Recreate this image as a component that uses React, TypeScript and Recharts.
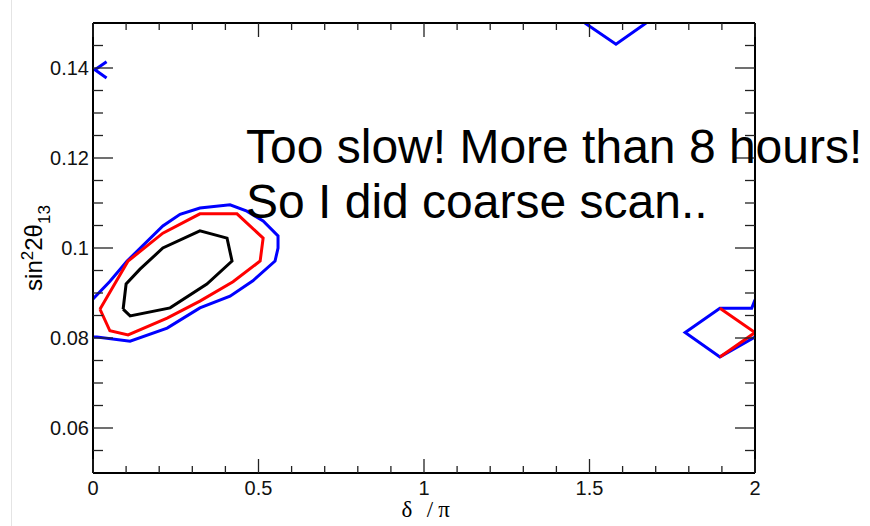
import React from 'react';
import { LineChart, Line, XAxis, YAxis } from 'recharts';

type Pt = { d: number; s: number };

// d = delta / pi, s = sin^2 2theta13
const blueMain: Pt[] = [
  { d: 0.0, s: 0.0887 },
  { d: 0.05, s: 0.0925 },
  { d: 0.103, s: 0.0971 },
  { d: 0.211, s: 0.1049 },
  { d: 0.263, s: 0.1075 },
  { d: 0.323, s: 0.1089 },
  { d: 0.414, s: 0.1096 },
  { d: 0.465, s: 0.1082 },
  { d: 0.514, s: 0.106 },
  { d: 0.559, s: 0.1027 },
  { d: 0.559, s: 0.1 },
  { d: 0.55, s: 0.0971 },
  { d: 0.483, s: 0.0927 },
  { d: 0.414, s: 0.0893 },
  { d: 0.323, s: 0.0867 },
  { d: 0.224, s: 0.0822 },
  { d: 0.112, s: 0.0793 },
  { d: 0.012, s: 0.0802 },
  { d: 0.0, s: 0.0802 },
];

const redMain: Pt[] = [
  { d: 0.021, s: 0.0864 },
  { d: 0.106, s: 0.0971 },
  { d: 0.211, s: 0.1033 },
  { d: 0.323, s: 0.1076 },
  { d: 0.435, s: 0.1076 },
  { d: 0.514, s: 0.1022 },
  { d: 0.505, s: 0.0971 },
  { d: 0.423, s: 0.0925 },
  { d: 0.323, s: 0.0882 },
  { d: 0.224, s: 0.0844 },
  { d: 0.106, s: 0.0807 },
  { d: 0.051, s: 0.0816 },
  { d: 0.021, s: 0.0864 },
];

const blackMain: Pt[] = [
  { d: 0.091, s: 0.0864 },
  { d: 0.1, s: 0.092 },
  { d: 0.142, s: 0.0953 },
  { d: 0.211, s: 0.1 },
  { d: 0.323, s: 0.1038 },
  { d: 0.405, s: 0.1022 },
  { d: 0.42, s: 0.0971 },
  { d: 0.344, s: 0.092 },
  { d: 0.233, s: 0.0867 },
  { d: 0.112, s: 0.0849 },
  { d: 0.091, s: 0.0864 },
];

const blueCorner: Pt[] = [
  { d: 0.041, s: 0.1414 },
  { d: 0.006, s: 0.1396 },
  { d: 0.041, s: 0.1378 },
];

const blueTop: Pt[] = [
  { d: 1.486, s: 0.15 },
  { d: 1.58, s: 0.1453 },
  { d: 1.671, s: 0.15 },
];

const blueRight: Pt[] = [
  { d: 2.0, s: 0.0885 },
  { d: 1.99, s: 0.0866 },
  { d: 1.894, s: 0.0866 },
  { d: 1.789, s: 0.0812 },
  { d: 1.894, s: 0.0758 },
  { d: 2.0, s: 0.0802 },
];

const redRight: Pt[] = [
  { d: 1.894, s: 0.0866 },
  { d: 2.0, s: 0.0812 },
  { d: 1.894, s: 0.0758 },
];

const xMajor = [0, 0.5, 1, 1.5, 2];
const xLabels = ['0', '0.5', '1', '1.5', '2'];
const xTicks = [
  0, 0.1, 0.2, 0.3, 0.4, 0.5, 0.6, 0.7, 0.8, 0.9, 1, 1.1, 1.2, 1.3, 1.4, 1.5, 1.6, 1.7, 1.8,
  1.9, 2,
];

const yMajor = [0.06, 0.08, 0.1, 0.12, 0.14];
const yLabels = ['0.06', '0.08', '0.1', '0.12', '0.14'];
const yTicks = [
  0.055, 0.06, 0.065, 0.07, 0.075, 0.08, 0.085, 0.09, 0.095, 0.1, 0.105, 0.11, 0.115, 0.12,
  0.125, 0.13, 0.135, 0.14, 0.145,
];

const SANS = '"Liberation Sans", Arial, Helvetica, sans-serif';
const SERIF = '"Liberation Serif", "Times New Roman", serif';
const TICK_COLOR = '#222';

const majorIndex = (v: number, majors: number[]) =>
  majors.findIndex((m) => Math.abs(m - v) < 1e-6);

const BottomTick = (props: any) => {
  const { x, y, payload } = props;
  const i = majorIndex(payload.value, xMajor);
  return (
    <g>
      <line x1={x} y1={y} x2={x} y2={y - (i >= 0 ? 14 : 7)} stroke={TICK_COLOR} strokeWidth={1.3} />
      {i >= 0 && (
        <text x={x} y={y + 22} textAnchor="middle" fontSize={20} fontFamily={SANS} fill="#111">
          {xLabels[i]}
        </text>
      )}
    </g>
  );
};

const TopTick = (props: any) => {
  const { x, y, payload } = props;
  const i = majorIndex(payload.value, xMajor);
  return <line x1={x} y1={y} x2={x} y2={y + (i >= 0 ? 14 : 7)} stroke={TICK_COLOR} strokeWidth={1.3} />;
};

const LeftTick = (props: any) => {
  const { x, y, payload } = props;
  const i = majorIndex(payload.value, yMajor);
  return (
    <g>
      <line x1={x} y1={y} x2={x + (i >= 0 ? 20 : 10)} y2={y} stroke={TICK_COLOR} strokeWidth={1.3} />
      {i >= 0 && (
        <text x={x - 4} y={y} dy="0.36em" textAnchor="end" fontSize={20} fontFamily={SANS} fill="#111">
          {yLabels[i]}
        </text>
      )}
    </g>
  );
};

const RightTick = (props: any) => {
  const { x, y, payload } = props;
  const i = majorIndex(payload.value, yMajor);
  return <line x1={x} y1={y} x2={x - (i >= 0 ? 20 : 10)} y2={y} stroke={TICK_COLOR} strokeWidth={1.3} />;
};

const YTitle = () => (
  <text
    x={42}
    y={248}
    transform="rotate(-90, 42, 248)"
    textAnchor="middle"
    fontSize={24}
    fontFamily={SANS}
    fill="#000"
  >
    sin
    <tspan dy={-9} fontSize={17}>2</tspan>
    <tspan dy={9}>2θ</tspan>
    <tspan dy={8} fontSize={17}>13</tspan>
  </text>
);

const XTitle = () => (
  <g fontSize={23} fontFamily={SERIF} fill="#000" textAnchor="middle">
    <text x={407} y={517}>δ</text>
    <text x={430} y={517}>/</text>
    <text x={444} y={517}>π</text>
  </g>
);

const contours: { data: Pt[]; color: string }[] = [
  { data: blueMain, color: '#0000ff' },
  { data: redMain, color: '#ff0000' },
  { data: blackMain, color: '#000000' },
  { data: blueCorner, color: '#0000ff' },
  { data: blueTop, color: '#0000ff' },
  { data: blueRight, color: '#0000ff' },
  { data: redRight, color: '#ff0000' },
];

export default function App() {
  const axisLine = { stroke: '#000', strokeWidth: 2 };
  return (
    <div style={{ position: 'absolute', left: 0, top: 0, width: 870, height: 526, background: '#fff' }}>
      <div
        style={{ position: 'absolute', left: 11, top: 0, width: 1, height: 526, background: '#e4e4e4' }}
      />
      <LineChart width={870} height={526} margin={{ top: 13, right: 105, bottom: 0, left: 0 }}>
        <XAxis
          dataKey="d"
          type="number"
          domain={[0, 2]}
          allowDataOverflow
          ticks={xTicks}
          interval={0}
          tick={<BottomTick />}
          tickLine={false}
          tickSize={0}
          tickMargin={0}
          axisLine={axisLine}
          height={53}
          label={<XTitle />}
        />
        <XAxis
          xAxisId="top"
          orientation="top"
          dataKey="d"
          type="number"
          domain={[0, 2]}
          allowDataOverflow
          ticks={xTicks}
          interval={0}
          tick={<TopTick />}
          tickLine={false}
          tickSize={0}
          tickMargin={0}
          axisLine={axisLine}
          height={10}
        />
        <YAxis
          type="number"
          domain={[0.05, 0.15]}
          allowDataOverflow
          ticks={yTicks}
          interval={0}
          tick={<LeftTick />}
          tickLine={false}
          tickSize={0}
          tickMargin={0}
          axisLine={axisLine}
          width={93}
          label={<YTitle />}
        />
        <YAxis
          yAxisId="right"
          orientation="right"
          type="number"
          domain={[0.05, 0.15]}
          allowDataOverflow
          ticks={yTicks}
          interval={0}
          tick={<RightTick />}
          tickLine={false}
          tickSize={0}
          tickMargin={0}
          axisLine={axisLine}
          width={10}
        />
        {contours.map((c, i) => (
          <Line
            key={i}
            data={c.data}
            dataKey="s"
            type="linear"
            stroke={c.color}
            strokeWidth={3}
            dot={false}
            activeDot={false}
            isAnimationActive={false}
          />
        ))}
      </LineChart>
      <div
        style={{
          position: 'absolute',
          left: 246,
          top: 119,
          fontFamily: SANS,
          fontSize: 48,
          lineHeight: '55px',
          color: '#000',
          whiteSpace: 'nowrap',
          pointerEvents: 'none',
        }}
      >
        Too slow! More than 8 hours!
        <br />
        So I did coarse scan..
      </div>
    </div>
  );
}
